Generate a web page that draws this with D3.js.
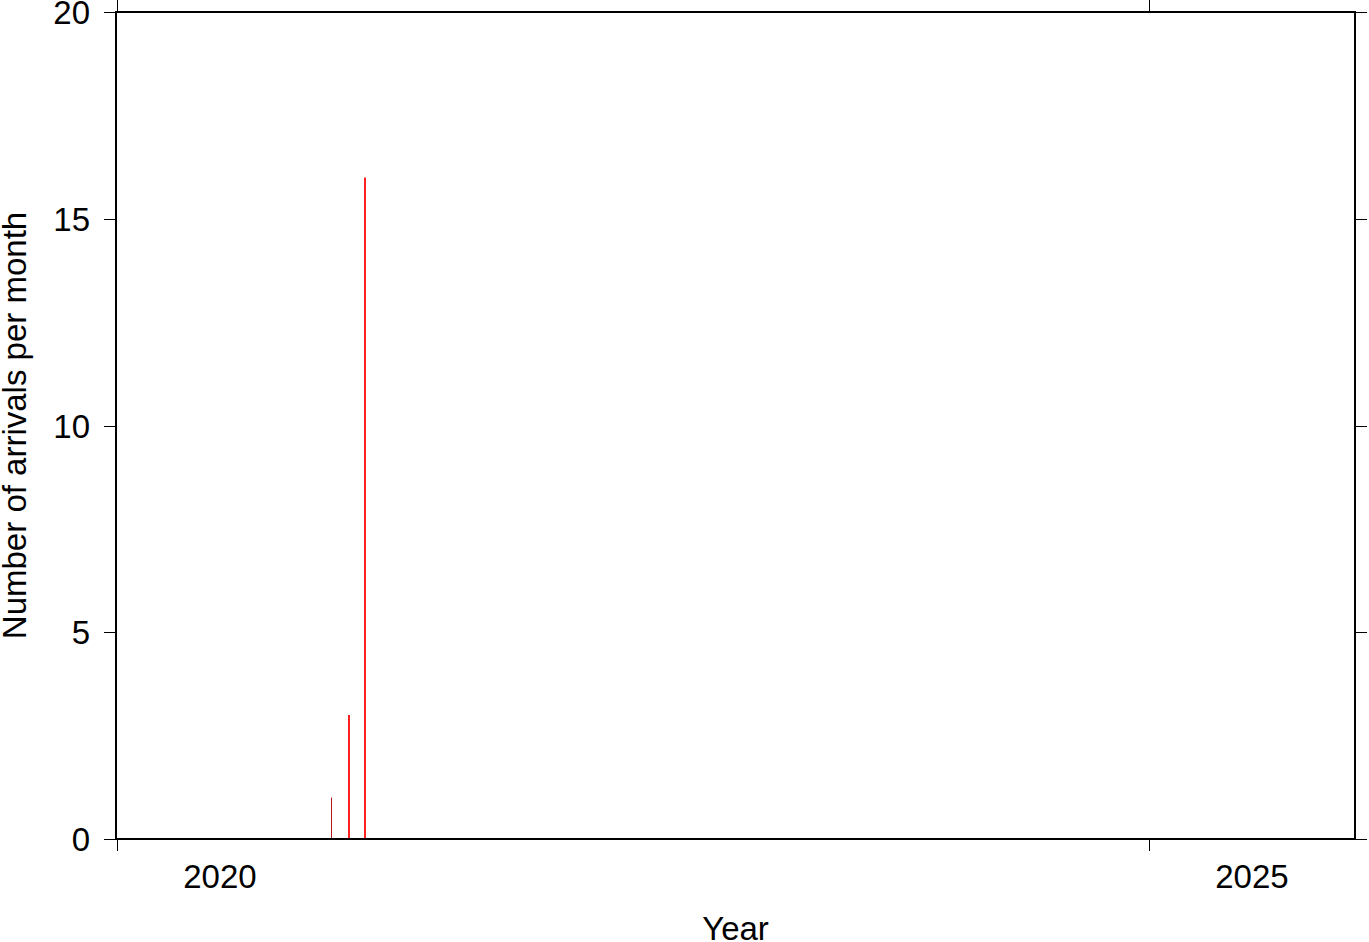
<!DOCTYPE html>
<html>
<head>
<meta charset="utf-8">
<script src="https://cdn.jsdelivr.net/npm/d3@7"></script>
<style>
  html, body { margin: 0; padding: 0; background: #fff; }
  svg { display: block; }
  text { font-family: "Liberation Sans", Arial, Helvetica, sans-serif; fill: #000; }
</style>
</head>
<body>
<svg id="chart" width="1369" height="942"></svg>
<script>
// Data: monthly arrival counts (mid-month dates)
const months = ["2021-01-15", "2021-02-15", "2021-03-15"];
const counts = [1, 3, 16];
const barColors = ["#b01818", "#ff2020", "#ff2020"];
const barWidths = [1, 2, 2];

const yTicks = [0, 5, 10, 15, 20];
const xTickYears = [2020, 2025];
const xLabelYears = [2020, 2025];

const xDomain = [new Date(2020, 0, 1), new Date(2026, 0, 1)];
const yDomain = [0, 20];

const svg = d3.select("#chart");
const mLeft = 116, mRight = 1355, mTop = 12, mBottom = 839;

const x = d3.scaleTime().domain(xDomain).range([mLeft + 0.5, mRight]);
const y = d3.scaleLinear().domain(yDomain).range([mBottom, mTop]);
const parse = d3.timeParse("%Y-%m-%d");

const fs = 33;
const tickLen = 12;

// Bars
svg.append("g").selectAll("line")
  .data(months.map((m, i) => ({ d: parse(m), v: counts[i], c: barColors[i], w: barWidths[i] })))
  .join("line")
  .attr("x1", d => Math.round(x(d.d)) + (d.w % 2 ? 0.5 : 0))
  .attr("x2", d => Math.round(x(d.d)) + (d.w % 2 ? 0.5 : 0))
  .attr("y1", y(0))
  .attr("y2", d => y(d.v))
  .attr("stroke", d => d.c)
  .attr("stroke-width", d => d.w);

// Ticks on all sides
const tg = svg.append("g").attr("stroke", "#000").attr("stroke-width", 1);
yTicks.forEach(t => {
  const yy = Math.round(y(t)) + 0.5;
  tg.append("line").attr("x1", mLeft - tickLen).attr("x2", mLeft).attr("y1", yy).attr("y2", yy);
  tg.append("line").attr("x1", mRight).attr("x2", mRight + tickLen).attr("y1", yy).attr("y2", yy);
});
xTickYears.forEach(yr => {
  const xx = Math.round(x(new Date(yr, 0, 1))) + 0.5;
  tg.append("line").attr("x1", xx).attr("x2", xx).attr("y1", mBottom).attr("y2", mBottom + tickLen);
  tg.append("line").attr("x1", xx).attr("x2", xx).attr("y1", mTop - tickLen).attr("y2", mTop);
});

// Frame
svg.append("rect")
  .attr("x", mLeft).attr("y", mTop)
  .attr("width", mRight - mLeft).attr("height", mBottom - mTop)
  .attr("fill", "none").attr("stroke", "#000").attr("stroke-width", 2);

// Y tick labels
svg.append("g").selectAll("text")
  .data(yTicks)
  .join("text")
  .attr("x", mLeft - tickLen - 14)
  .attr("y", d => y(d) + 12)
  .attr("text-anchor", "end")
  .attr("font-size", fs)
  .text(d => d);

// X labels centred in their year interval
svg.append("g").selectAll("text")
  .data(xLabelYears)
  .join("text")
  .attr("x", d => (x(new Date(d, 0, 1)) + x(new Date(d + 1, 0, 1))) / 2)
  .attr("y", 888)
  .attr("text-anchor", "middle")
  .attr("font-size", fs)
  .text(d => d);

// Axis titles
svg.append("text")
  .attr("x", (mLeft + mRight) / 2)
  .attr("y", 940)
  .attr("text-anchor", "middle")
  .attr("font-size", fs)
  .text("Year");

svg.append("text")
  .attr("transform", `translate(26,${(mTop + mBottom) / 2}) rotate(-90)`)
  .attr("text-anchor", "middle")
  .attr("font-size", fs)
  .text("Number of arrivals per month");
</script>
</body>
</html>
